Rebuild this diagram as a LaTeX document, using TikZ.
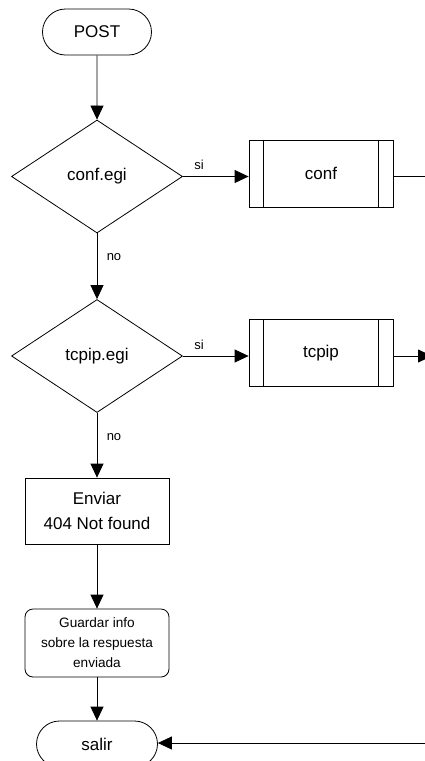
\documentclass[tikz,border=0pt]{standalone}
\usepackage{fontspec}
\setmainfont{Liberation Sans}
\usetikzlibrary{shapes.geometric,shapes.misc,arrows.meta}
\begin{document}
\begin{tikzpicture}[x=1pt,y=-1pt,line width=0.8pt,
  every node/.style={font=\fontsize{17}{25}\selectfont, inner sep=0pt},
  term/.style={draw, rounded rectangle, minimum width=109pt, minimum height=46pt},
  decision/.style={draw, diamond, minimum width=171pt, minimum height=113pt},
  proc/.style={draw, rectangle, minimum width=144pt, minimum height=66pt, align=center},
  sub/.style={draw, rectangle, minimum width=144pt, minimum height=67pt},
  roundproc/.style={draw, rectangle, rounded corners=8pt, minimum width=144pt, minimum height=68pt, align=center, font=\fontsize{13.6}{20}\selectfont},
  lbl/.style={font=\fontsize{13}{15}\selectfont},
  flow/.style={draw, -{Triangle[length=14pt,width=13pt]}}]
\path[use as bounding box] (0,0) rectangle (425,761);
\clip (0,0) rectangle (425,761);

\node[term] (post) at (97,32) {POST};
\node[decision] (d1) at (97,176.5) {conf.egi};
\node[sub] (conf) at (321,173.5) {conf};
\draw ([xshift=15pt]conf.north west) -- ([xshift=15pt]conf.south west);
\draw ([xshift=-15pt]conf.north east) -- ([xshift=-15pt]conf.south east);
\node[decision] (d2) at (97,356) {tcpip.egi};
\node[sub] (tcpip) at (321,353) {tcpip};
\draw ([xshift=15pt]tcpip.north west) -- ([xshift=15pt]tcpip.south west);
\draw ([xshift=-15pt]tcpip.north east) -- ([xshift=-15pt]tcpip.south east);
\node[proc] (env) at (97,511) {Enviar\\404 Not found};
\node[roundproc] (guard) at (97,643) {Guardar info\\sobre la respuesta\\enviada};
\node[term, minimum width=121pt] (salir) at (97,744) {salir};

\coordinate (confout) at (430,176.5);
\coordinate (tcpout) at (432,356);
\coordinate (ret) at (426,743);

\node[lbl] (si1) at (199,165) {si};
\node[lbl] (no1) at (114,257) {no};
\node[lbl] (si2) at (199,345) {si};
\node[lbl] (no2) at (114,437) {no};

\draw[flow] (post) -- (d1);
\draw[flow] (d1.east) -- (d1.east -| conf.west);
\draw (conf.east |- confout) -- (confout);
\draw[flow] (d1) -- (d2);
\draw[flow] (d2.east) -- (d2.east -| tcpip.west);
\draw[flow] (tcpip.east |- tcpout) -- (tcpout);
\draw[flow] (d2) -- (env);
\draw[flow] (env) -- (guard);
\draw[flow] (guard) -- (salir);
\draw[flow] (ret) -- (salir.east |- ret);
\end{tikzpicture}
\end{document}
